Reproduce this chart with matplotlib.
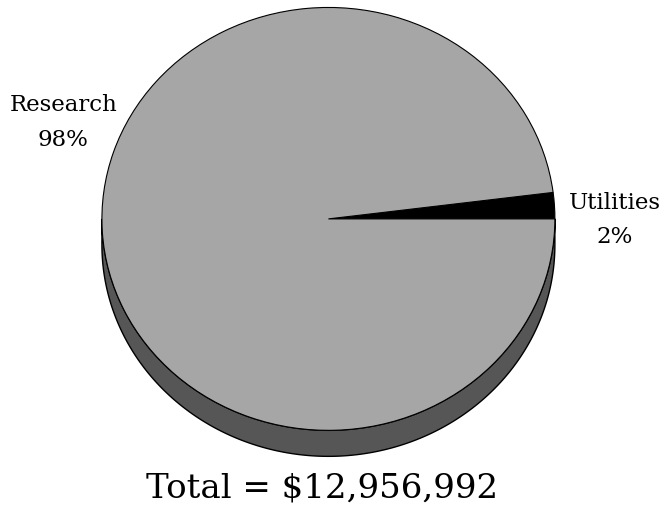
import matplotlib
matplotlib.use("Agg")
import matplotlib.pyplot as plt
import numpy as np

labels = ["Utilities", "Research"]
values = [2, 98]
colors = ["#000000", "#a6a6a6"]
total = 12956992

side_color = "#565656"
depth = 0.123

fig = plt.figure(figsize=(6.67, 5.10), dpi=100)
ax = fig.add_axes([0, 0, 1, 1])

# side of the disc: lower half of the rim extruded downward
t = np.linspace(np.pi, 2 * np.pi, 200)
xs = np.concatenate([np.cos(t), np.cos(t[::-1])])
ys = np.concatenate([np.sin(t), np.sin(t[::-1]) - depth])
ax.fill(xs, ys, facecolor=side_color, edgecolor="black", linewidth=1, zorder=1)

wedges, _ = ax.pie(values, colors=colors, startangle=0, counterclock=True,
                   wedgeprops=dict(edgecolor="black", linewidth=0.8))
for w in wedges:
    w.set_zorder(2)

ax.set_aspect("auto")
ax.set_xlim(-1.450, 1.495)
ax.set_ylim(-1.372, 1.040)
ax.axis("off")

font = dict(family="DejaVu Serif", color="black")
ax.text(-1.170, 0.46, f"{labels[1]}\n{values[1]}%", ha="center", va="center",
        fontsize=16.5, linespacing=1.75, **font)
ax.text(1.265, 0.0, f"{labels[0]}\n{values[0]}%", ha="center", va="center",
        fontsize=16.5, linespacing=1.75, **font)
ax.text(-0.03, -1.27, f"Total = ${total:,}", ha="center", va="center",
        fontsize=24.5, **font)

fig.savefig("out.png", dpi=100)
